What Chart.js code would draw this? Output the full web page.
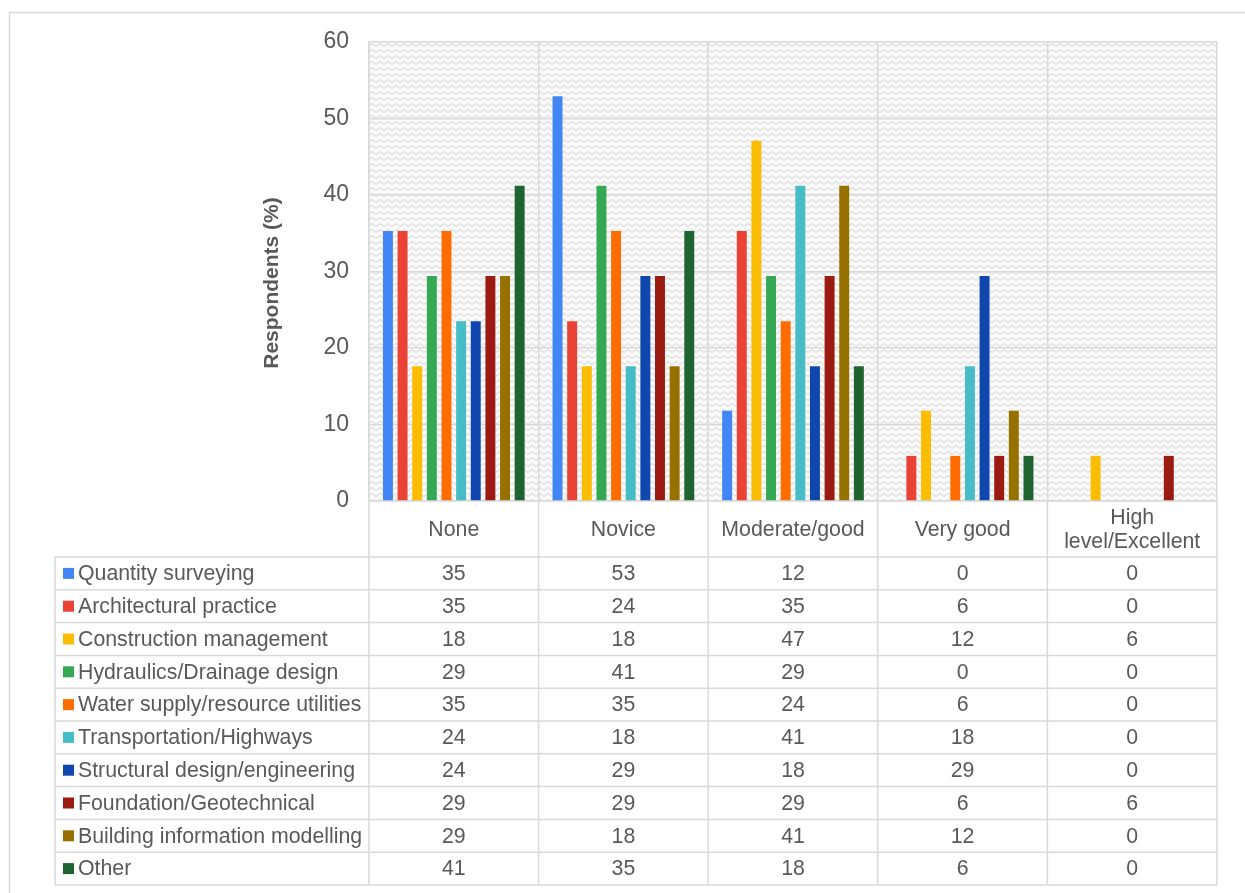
<!DOCTYPE html>
<html>
<head>
<meta charset="utf-8">
<script src="https://cdn.jsdelivr.net/npm/chart.js@4.4.0/dist/chart.umd.min.js"></script>
<style>
  html, body { margin: 0; padding: 0; background: #fff; }
  #wrap { position: relative; width: 1245px; height: 893px; }
</style>
</head>
<body>
<div id="wrap"><canvas id="myChart"></canvas></div>
<script>
// categories (x axis / table columns)
var categories = ["None", "Novice", "Moderate/good", "Very good", ["High", "level/Excellent"]];
var yTicks = [0, 10, 20, 30, 40, 50, 60];
var yTitle = "Respondents (%)";

// series values, % of respondents (n = 17)
var quantitySurveying   = [35.3, 52.9, 11.8, 0, 0];
var architectural       = [35.3, 23.5, 35.3, 5.9, 0];
var constructionMgmt    = [17.6, 17.6, 47.1, 11.8, 5.9];
var hydraulics          = [29.4, 41.2, 29.4, 0, 0];
var waterSupply         = [35.3, 35.3, 23.5, 5.9, 0];
var transportation      = [23.5, 17.6, 41.2, 17.6, 0];
var structural          = [23.5, 29.4, 17.6, 29.4, 0];
var foundation          = [29.4, 29.4, 29.4, 5.9, 5.9];
var bim                 = [29.4, 17.6, 41.2, 11.8, 0];
var other               = [41.2, 35.3, 17.6, 5.9, 0];

var seriesNames = ["Quantity surveying", "Architectural practice", "Construction management",
  "Hydraulics/Drainage design", "Water supply/resource utilities", "Transportation/Highways",
  "Structural design/engineering", "Foundation/Geotechnical", "Building information modelling", "Other"];
var seriesValues = [quantitySurveying, architectural, constructionMgmt, hydraulics, waterSupply,
  transportation, structural, foundation, bim, other];
var seriesColors = ["#4285F4", "#EA4335", "#FBBC04", "#34A853", "#FF6D01",
  "#46BDC6", "#0F47AF", "#9B1B12", "#977100", "#1F6331"];

var textColor = "#595959";
var lineColor = "#d9d9d9";
var fontFamily = '"Liberation Sans", Arial, sans-serif';

// zigzag texture for plot background
function makePattern() {
  var c = document.createElement("canvas");
  c.width = 8; c.height = 6;
  var g = c.getContext("2d");
  g.fillStyle = "#fafafa";
  g.fillRect(0, 0, 8, 6);
  g.strokeStyle = "#dedede";
  g.lineWidth = 1.2;
  g.beginPath();
  g.moveTo(0, 4.5); g.lineTo(4, 1.5); g.lineTo(8, 4.5);
  g.stroke();
  return g.createPattern(c, "repeat");
}

var backgroundPlugin = {
  id: "plotBackground",
  beforeDraw: function(chart) {
    var ctx = chart.ctx, a = chart.chartArea;
    ctx.save();
    ctx.fillStyle = makePattern();
    ctx.fillRect(a.left, a.top, a.right - a.left, a.bottom - a.top);
    // outer frame of the figure
    ctx.strokeStyle = lineColor;
    ctx.lineWidth = 1.5;
    ctx.strokeRect(9.5, 12.5, 1400, 1000);
    ctx.restore();
  }
};

// axis title and data table under the plot
var tablePlugin = {
  id: "dataTable",
  afterDraw: function(chart) {
    var ctx = chart.ctx, a = chart.chartArea, x = chart.scales.x;
    var n = categories.length;
    var colW = (a.right - a.left) / n;
    var headTop = a.bottom, headBottom = a.bottom + 56;
    var rowH = 32.8;
    var tableBottom = headBottom + rowH * seriesNames.length;
    var leftX = 55;

    ctx.save();
    // y axis title
    ctx.save();
    ctx.translate(272, 283);
    ctx.rotate(-Math.PI / 2);
    ctx.font = "bold 21px " + fontFamily;
    ctx.fillStyle = textColor;
    ctx.textAlign = "center";
    ctx.textBaseline = "middle";
    ctx.fillText(yTitle, 0, 0);
    ctx.restore();

    ctx.strokeStyle = lineColor;
    ctx.lineWidth = 1.5;
    ctx.beginPath();
    for (var i = 0; i <= n; i++) {
      var vx = a.left + i * colW;
      ctx.moveTo(vx, headTop); ctx.lineTo(vx, tableBottom);
    }
    ctx.moveTo(leftX, headBottom); ctx.lineTo(leftX, tableBottom);
    for (var r = 0; r <= seriesNames.length; r++) {
      var hy = headBottom + r * rowH;
      ctx.moveTo(leftX, hy); ctx.lineTo(a.right, hy);
    }
    ctx.stroke();

    ctx.font = "21.3px " + fontFamily;
    ctx.fillStyle = textColor;
    ctx.textAlign = "center";
    ctx.textBaseline = "middle";
    categories.forEach(function(c, i) {
      var lines = Array.isArray(c) ? c : [c];
      var cx = x.getPixelForValue(i);
      lines.forEach(function(l, j) {
        ctx.fillText(l, cx, (headTop + headBottom) / 2 + 1 + (j - (lines.length - 1) / 2) * 24);
      });
    });

    seriesNames.forEach(function(name, r) {
      var cy = headBottom + rowH * (r + 0.5);
      ctx.fillStyle = seriesColors[r];
      ctx.fillRect(63, cy - 5.5, 11, 11);
      ctx.fillStyle = textColor;
      ctx.textAlign = "left";
      ctx.fillText(name, 78, cy + 1);
      ctx.textAlign = "center";
      seriesValues[r].forEach(function(v, i) {
        ctx.fillText(Math.round(v), x.getPixelForValue(i), cy + 1);
      });
    });
    ctx.restore();
  }
};

var datasets = seriesNames.map(function(name, i) {
  return {
    label: name,
    data: seriesValues[i],
    backgroundColor: seriesColors[i],
    categoryPercentage: 0.863,
    barPercentage: 0.68
  };
});

new Chart("myChart", {
  type: "bar",
  data: { labels: categories, datasets: datasets },
  plugins: [backgroundPlugin, tablePlugin],
  options: {
    responsive: true,
    maintainAspectRatio: false,
    animation: false,
    layout: { padding: { left: 255, top: 42, right: 28, bottom: 0 } },
    plugins: {
      legend: { display: false },
      tooltip: { enabled: false }
    },
    scales: {
      x: {
        afterFit: function(scale) { scale.height = 392; },
        ticks: { display: false },
        grid: { color: lineColor, lineWidth: 1.5, drawTicks: false, offset: true },
        border: { color: lineColor, width: 1.5 }
      },
      y: {
        min: 0,
        max: 60,
        afterFit: function(scale) { scale.width = 369 - 255; },
        afterBuildTicks: function(scale) {
          scale.ticks = yTicks.map(function(v) { return { value: v }; });
        },
        ticks: {
          color: textColor,
          font: { family: fontFamily, size: 23 },
          padding: 20
        },
        grid: { color: lineColor, lineWidth: 1.5, drawTicks: false },
        border: { color: lineColor, width: 1.5 }
      }
    }
  }
});
</script>
</body>
</html>
